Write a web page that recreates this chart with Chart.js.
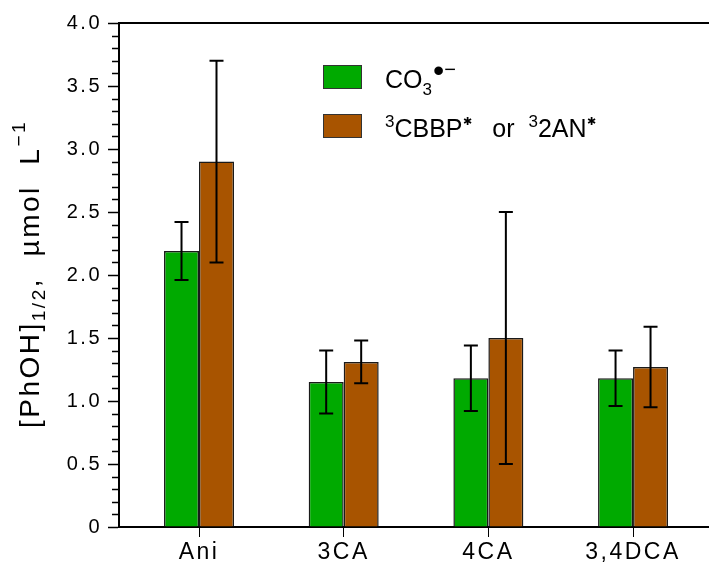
<!DOCTYPE html>
<html>
<head>
<meta charset="utf-8">
<script src="https://cdn.jsdelivr.net/npm/chart.js@4.4.0/dist/chart.umd.min.js"></script>
<style>
  html, body { margin: 0; padding: 0; background: #fff; overflow: hidden; }
</style>
</head>
<body>
<canvas id="graphiquePhenol" width="709" height="580"></canvas>
<script>
const composes = ['Ani', '3CA', '4CA', '3,4DCA'];
const valeursCO3 = [2.19, 1.15, 1.18, 1.18];
const erreursCO3 = [0.23, 0.25, 0.26, 0.22];
const valeursTriplet = [2.90, 1.31, 1.50, 1.27];
const erreursTriplet = [0.80, 0.17, 1.00, 0.32];
const graduationsY = [0, 0.5, 1, 1.5, 2, 2.5, 3, 3.5, 4];

const VERT = '#00AA00';
const BRUN = '#A85400';
const POLICE = '"Liberation Sans", Arial, sans-serif';

// petits bouts de texte avec indices / exposants
function ecrire(ctx, morceaux, x, y) {
    morceaux.forEach(m => {
        ctx.font = m.taille + 'px ' + POLICE;
        ctx.fillText(m.t, x + (m.dx || 0), y + (m.dy || 0));
        x += ctx.measureText(m.t).width + (m.dx || 0);
    });
    return x;
}

const espacement = {
    id: 'espacement',
    beforeLayout(chart) { chart.ctx.letterSpacing = '2.5px'; },
    beforeDraw(chart) { chart.ctx.letterSpacing = '2.5px'; }
};

// barres d'erreur
const barresErreur = {
    id: 'barresErreur',
    afterDatasetsDraw(chart) {
        const ctx = chart.ctx;
        const y = chart.scales.y;
        ctx.save();
        ctx.strokeStyle = '#000';
        ctx.lineWidth = 2;
        chart.data.datasets.forEach((ds, d) => {
            chart.getDatasetMeta(d).data.forEach((bar, i) => {
                const v = ds.data[i].y, e = ds.erreurs[i];
                const haut = y.getPixelForValue(v + e);
                const bas = y.getPixelForValue(v - e);
                ctx.beginPath();
                ctx.moveTo(bar.x, haut); ctx.lineTo(bar.x, bas);
                ctx.moveTo(bar.x - 7, haut); ctx.lineTo(bar.x + 7, haut);
                ctx.moveTo(bar.x - 7, bas); ctx.lineTo(bar.x + 7, bas);
                ctx.stroke();
            });
        });
        ctx.restore();
    }
};

// cadre du haut, petites graduations, titre de l'axe y et légende
const decor = {
    id: 'decor',
    afterDraw(chart) {
        const ctx = chart.ctx;
        const a = chart.chartArea;
        const y = chart.scales.y;
        ctx.save();
        ctx.strokeStyle = '#000';
        ctx.lineWidth = 2;
        ctx.beginPath();
        ctx.moveTo(a.left - 1, a.top); ctx.lineTo(a.right, a.top);
        ctx.stroke();

        ctx.lineWidth = 1.5;
        ctx.beginPath();
        for (let k = 0; k <= 40; k++) {
            if (k % 5 === 0) continue;
            const py = Math.round(y.getPixelForValue(k / 10)) + 0.5;
            ctx.moveTo(a.left - 7, py); ctx.lineTo(a.left, py);
        }
        ctx.stroke();

        ctx.fillStyle = '#000';
        ctx.textBaseline = 'alphabetic';
        ctx.textAlign = 'left';

        // titre vertical
        ctx.save();
        ctx.translate(39, 428);
        ctx.rotate(-Math.PI / 2);
        ctx.letterSpacing = '2.5px';
        ecrire(ctx, [
            { t: '[PhOH]', taille: 28 },
            { t: '1/2', taille: 19, dy: 6 },
            { t: ',  µmol  L', taille: 28 },
            { t: '−1', taille: 19, dy: -14 }
        ], 0, 0);
        ctx.restore();

        // légende
        ctx.letterSpacing = '0px';
        ctx.lineWidth = 1;
        ctx.strokeStyle = '#333';
        ctx.fillStyle = VERT;
        ctx.fillRect(323, 65, 39, 24); ctx.strokeRect(323.5, 65.5, 38, 23);
        ctx.fillStyle = BRUN;
        ctx.fillRect(323, 114, 39, 24); ctx.strokeRect(323.5, 114.5, 38, 23);
        ctx.fillStyle = '#000';
        ecrire(ctx, [
            { t: 'CO', taille: 25 },
            { t: '3', taille: 17, dy: 7 },
            { t: '•', taille: 32, dy: -7, dx: 1 },
            { t: '−', taille: 20, dy: -12 }
        ], 385, 88);
        ecrire(ctx, [
            { t: '3', taille: 17, dy: -10 },
            { t: 'CBBP', taille: 25 },
            { t: '✱', taille: 11, dy: -12 },
            { t: '   or  ', taille: 25 },
            { t: '3', taille: 17, dy: -10 },
            { t: '2AN', taille: 25 },
            { t: '✱', taille: 11, dy: -12 }
        ], 385, 137);
        ctx.restore();
    }
};

new Chart(document.getElementById('graphiquePhenol'), {
    type: 'bar',
    data: {
        datasets: [
            {
                label: 'CO3•−',
                data: composes.map((c, i) => ({ x: i, y: valeursCO3[i] })),
                erreurs: erreursCO3,
                backgroundColor: VERT,
                borderColor: '#1a1a1a',
                borderWidth: 1.5
            },
            {
                label: '3CBBP* or 32AN*',
                data: composes.map((c, i) => ({ x: i, y: valeursTriplet[i] })),
                erreurs: erreursTriplet,
                backgroundColor: BRUN,
                borderColor: '#1a1a1a',
                borderWidth: 1.5
            }
        ]
    },
    options: {
        responsive: false,
        animation: false,
        categoryPercentage: 0.4837,
        barPercentage: 1,
        layout: { padding: { top: 23, right: 0, left: 0, bottom: 0 } },
        plugins: { legend: { display: false }, tooltip: { enabled: false } },
        scales: {
            x: {
                type: 'linear',
                offset: false,
                min: -0.553,
                max: 3.525,
                afterBuildTicks: s => { s.ticks = composes.map((c, i) => ({ value: i })); },
                afterFit: s => { s.height = 53; },
                ticks: {
                    callback: v => composes[v],
                    color: '#000',
                    font: { family: POLICE, size: 23 },
                    padding: 2,
                    maxRotation: 0,
                    minRotation: 0,
                    autoSkip: false
                },
                grid: { offset: false, drawOnChartArea: false, tickLength: 10, color: '#000', tickWidth: 1 },
                border: { color: '#000', width: 2 }
            },
            y: {
                min: 0,
                max: 4,
                afterBuildTicks: s => { s.ticks = graduationsY.map(v => ({ value: v })); },
                afterFit: s => { s.width = 119; },
                ticks: {
                    callback: v => v === 0 ? '0' : v.toFixed(1),
                    color: '#000',
                    font: { family: POLICE, size: 20 },
                    padding: 6
                },
                grid: { drawOnChartArea: false, tickLength: 11, color: '#000', tickWidth: 1.5 },
                border: { color: '#000', width: 2 }
            }
        }
    },
    plugins: [espacement, barresErreur, decor]
});
</script>
</body>
</html>
